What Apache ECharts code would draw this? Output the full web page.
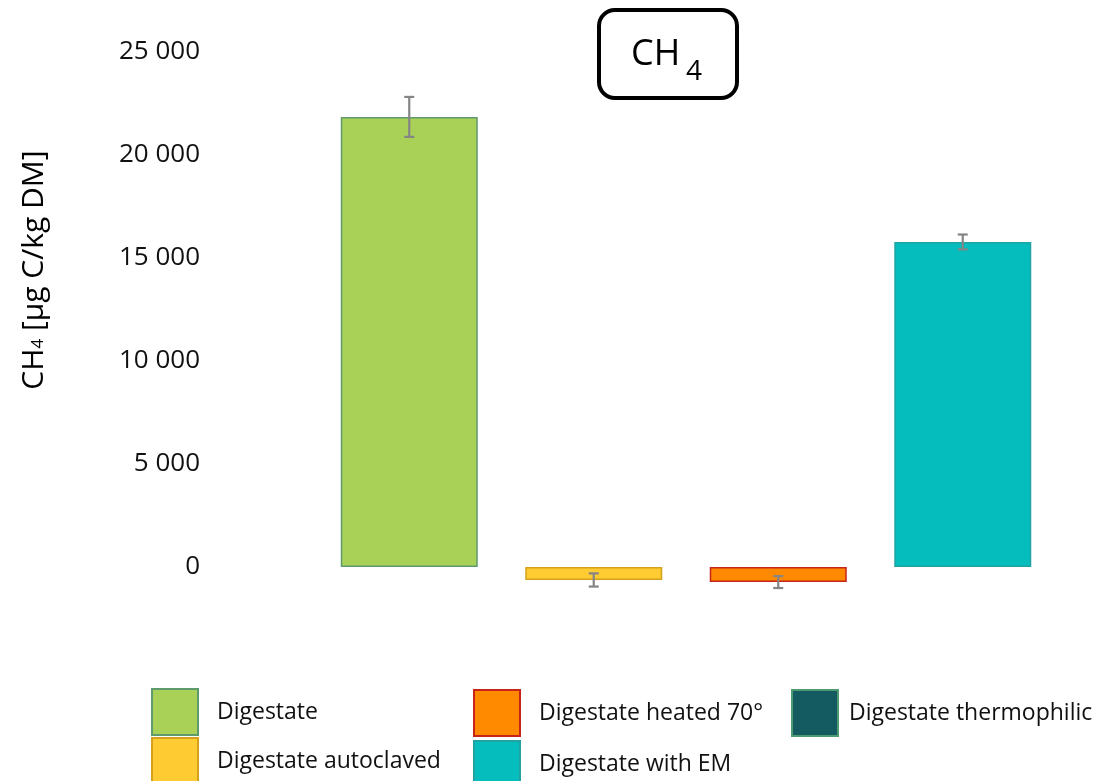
<!DOCTYPE html>
<html>
<head>
<meta charset="utf-8">
<script src="https://cdn.jsdelivr.net/npm/echarts@6/dist/echarts.min.js"></script>
<style>
  html, body { margin: 0; padding: 0; background: #fff; }
  #chart { width: 1103px; height: 781px; }
</style>
</head>
<body>
<div id="chart"></div>
<script>
// Treatments, mean CH4 values [µg C/kg DM] and their error bar half-widths
const treatments = ['Digestate', 'Digestate autoclaved', 'Digestate heated 70°', 'Digestate with EM', 'Digestate thermophilic'];
const barPositions = ['Digestate', 'Digestate autoclaved', 'Digestate heated 70°', 'Digestate with EM'];
const means = [21850, -630, -730, 15780, null];
const errors = [970, 320, 290, 360, null];
const yTicks = [0, 5000, 10000, 15000, 20000, 25000];

const fills = ['#A9D158', '#FFCB33', '#FF8A00', '#05BDBD', '#135B61'];
const borders = ['#5E9A6E', '#D4A21A', '#C8231B', '#22A3A3', '#4E9A72'];
const FONT = 'Open Sans';

// legend slots: [left, top, text gap] of each swatch, laid out column by column
const legendSlots = [[151, 688, 14], [151, 737, 14], [473, 689, 14], [473, 740, 14], [791, 689, 6]];

function fmt(v) {
  return String(v).replace(/\B(?=(\d{3})+(?!\d))/g, ' ');
}

const chart = echarts.init(document.getElementById('chart'));

const barSeries = treatments.map((name, i) => ({
  name: name,
  type: 'bar',
  stack: 'treatment',
  barWidth: 137,
  itemStyle: { color: fills[i], borderColor: borders[i], borderWidth: 1.5 },
  data: barPositions.map(p => (p === name && means[i] != null) ? means[i] : '-')
}));

const errorData = barPositions.map((p, k) => {
  const i = treatments.indexOf(p);
  return [k, means[i] - errors[i], means[i] + errors[i]];
});

const errorSeries = {
  type: 'custom',
  name: 'error',
  z: 10,
  data: errorData,
  encode: { x: 0, y: [1, 2] },
  renderItem: function (params, api) {
    const lo = api.coord([api.value(0), api.value(1)]);
    const hi = api.coord([api.value(0), api.value(2)]);
    const cap = 5;
    const style = { stroke: '#858585', lineWidth: 2.2 };
    return {
      type: 'group',
      children: [
        { type: 'line', shape: { x1: lo[0], y1: lo[1], x2: hi[0], y2: hi[1] }, style: style },
        { type: 'line', shape: { x1: lo[0] - cap, y1: lo[1], x2: lo[0] + cap, y2: lo[1] }, style: style },
        { type: 'line', shape: { x1: hi[0] - cap, y1: hi[1], x2: hi[0] + cap, y2: hi[1] }, style: style }
      ]
    };
  }
};

const legends = treatments.map((name, i) => ({
  left: legendSlots[i][0],
  top: legendSlots[i][1],
  orient: 'vertical',
  icon: 'rect',
  itemWidth: 46,
  itemHeight: 46,
  selectedMode: false,
  padding: 0,
  data: [name],
  textStyle: { fontFamily: FONT, fontSize: 23, color: '#111', padding: [0, 0, 0, legendSlots[i][2]] }
}));

chart.setOption({
  animation: false,
  backgroundColor: '#fff',
  grid: { left: 317, right: 48, top: 52, bottom: 111 },
  xAxis: {
    type: 'category',
    data: barPositions,
    axisLine: { show: false },
    axisTick: { show: false },
    axisLabel: { show: false },
    splitLine: { show: false }
  },
  yAxis: {
    type: 'value',
    min: -5000,
    max: 25000,
    interval: 5000,
    axisLine: { show: false },
    axisTick: { show: false },
    splitLine: { show: false },
    axisLabel: {
      margin: 117,
      fontFamily: FONT,
      fontSize: 26,
      color: '#111',
      padding: [5, 0, 0, 0],
      formatter: v => (yTicks.indexOf(v) >= 0 ? fmt(v) : '')
    }
  },
  legend: legends,
  graphic: [
    {
      type: 'rect',
      shape: { x: 599, y: 10, width: 138, height: 88, r: 16 },
      style: { fill: '#fff', stroke: '#000', lineWidth: 4 }
    },
    {
      type: 'text', x: 631, y: 55,
      style: { text: 'CH', font: '36px "Open Sans"', fill: '#000', verticalAlign: 'middle' }
    },
    {
      type: 'text', x: 686, y: 72,
      style: { text: '4', font: '28px "Open Sans"', fill: '#000', verticalAlign: 'middle' }
    },
    {
      type: 'text', x: 34, y: 270, rotation: Math.PI / 2,
      style: {
        text: '{m|CH}{s|4}{m| [µg C/kg DM]}',
        align: 'center',
        verticalAlign: 'middle',
        fill: '#000',
        rich: {
          m: { fontFamily: FONT, fontSize: 30, lineHeight: 36, fill: '#000' },
          s: { fontFamily: FONT, fontSize: 17, lineHeight: 17, verticalAlign: 'bottom', padding: [0, 0, 5, 0], fill: '#000' }
        }
      }
    }
  ],
  series: barSeries.concat([errorSeries])
});
</script>
</body>
</html>
